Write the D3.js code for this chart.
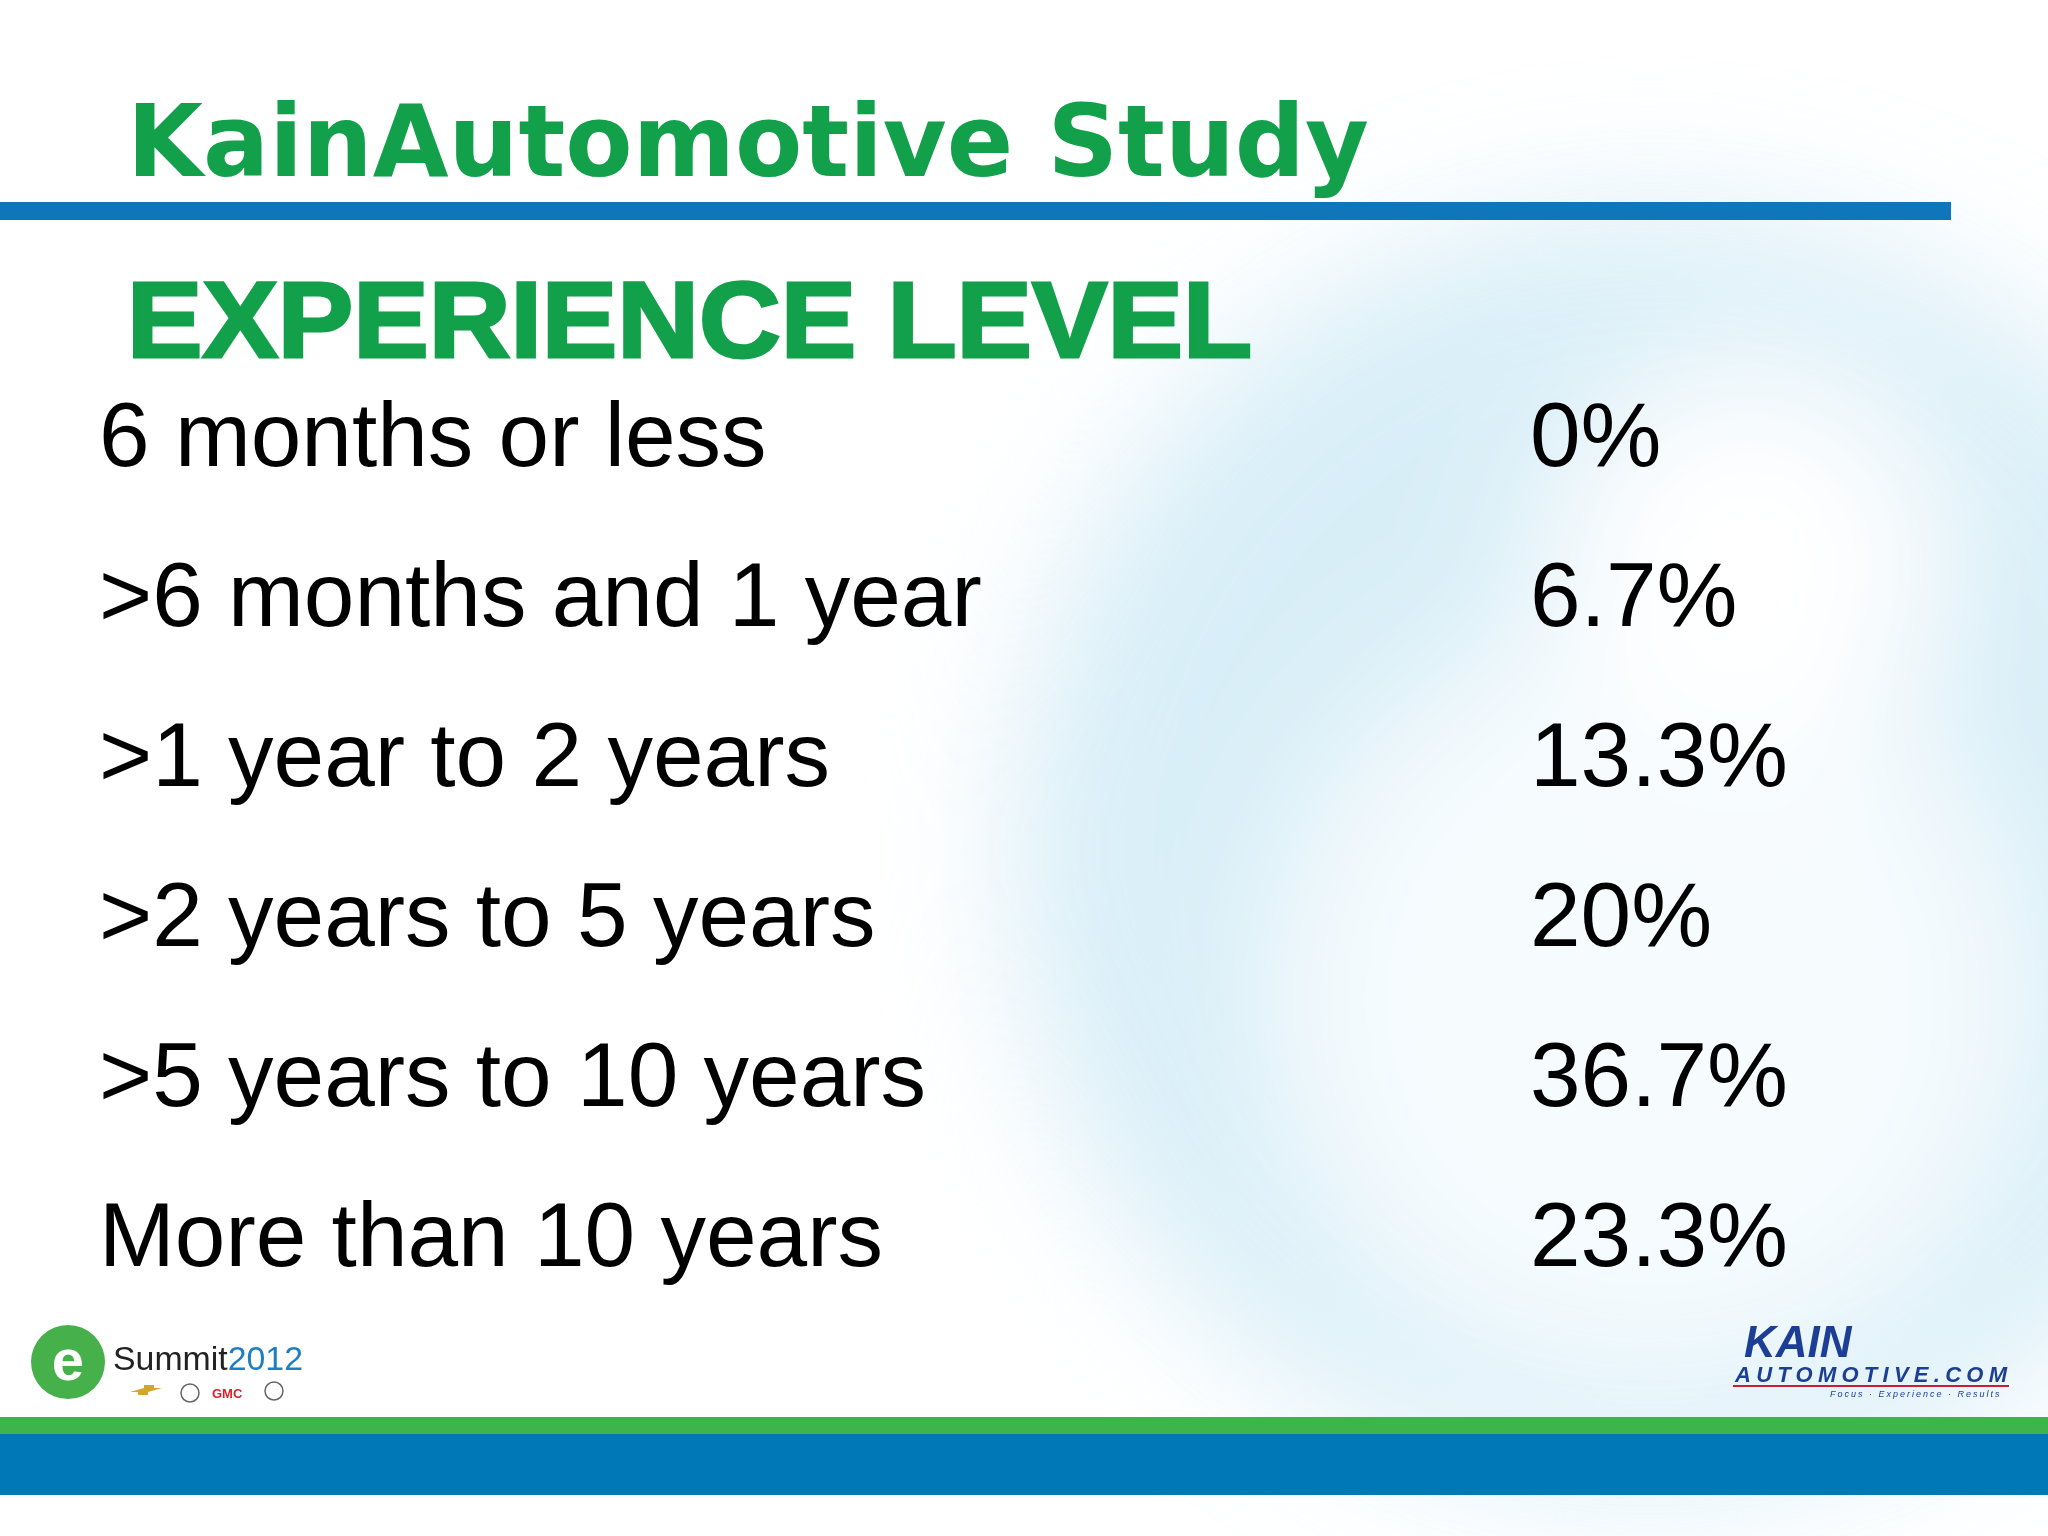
<!DOCTYPE html>
<html><head><meta charset="utf-8">
<script src="https://cdn.jsdelivr.net/npm/d3@7"></script>
<style>body{margin:0;background:#fff}svg{display:block}</style>
</head><body>
<script>
const categories = ["6 months or less", ">6 months and 1 year", ">1 year to 2 years", ">2 years to 5 years", ">5 years to 10 years", "More than 10 years"];
const valueLabels = ["0%", "6.7%", "13.3%", "20%", "36.7%", "23.3%"];
const title = "KainAutomotive Study";
const subtitle = "EXPERIENCE LEVEL";

const W = 2048, H = 1536;
const svg = d3.select("body").append("svg").attr("width", W).attr("height", H);
const defs = svg.append("defs");
const f = defs.append("filter").attr("id","blur").attr("x","-50%").attr("y","-50%").attr("width","200%").attr("height","200%");
f.append("feGaussianBlur").attr("stdDeviation", 70);

svg.append("rect").attr("width",W).attr("height",H).attr("fill","#fff");
const bg = svg.append("g").attr("filter","url(#blur)").attr("opacity",0.8);
bg.append("circle").attr("cx",1650).attr("cy",850).attr("r",640).attr("fill","#cfeaf6");
bg.append("circle").attr("cx",1650).attr("cy",1000).attr("r",380).attr("fill","#f4fbfe");
bg.append("circle").attr("cx",1750).attr("cy",560).attr("r",200).attr("fill","#ffffff");
bg.append("rect").attr("x",0).attr("y",0).attr("width",1000).attr("height",H).attr("fill","#fff").attr("opacity",0.85);

const font = "Liberation Sans, Arial, sans-serif";
svg.append("text").attr("x",127).attr("y",176).attr("font-family","DejaVu Sans, sans-serif").attr("font-weight","bold")
  .attr("font-size",100).attr("fill","#12a14a").attr("textLength",1242).attr("lengthAdjust","spacingAndGlyphs").text(title);
svg.append("rect").attr("x",0).attr("y",202).attr("width",1951).attr("height",18).attr("fill","#0f77b9");
svg.append("text").attr("x",127).attr("y",357).attr("font-family",font).attr("font-weight","bold")
  .attr("font-size",108).attr("fill","#12a14a").attr("stroke","#12a14a").attr("stroke-width",3)
  .attr("textLength",1125).attr("lengthAdjust","spacingAndGlyphs").text(subtitle);

const y = d3.scaleBand().domain(categories).range([366, 1326]).padding(0);
const rows = svg.append("g").selectAll("g").data(categories).join("g")
  .attr("transform", d => `translate(0,${y(d) + y.bandwidth()/2 + 20})`);
rows.append("text").attr("x",99).attr("font-family",font).attr("font-size",91).attr("fill","#000").text(d=>d);
rows.append("text").attr("x",1530).attr("font-family",font).attr("font-size",91).attr("fill","#000").text((d,i)=>valueLabels[i]);

svg.append("rect").attr("x",0).attr("y",1417).attr("width",W).attr("height",17).attr("fill","#3db54a");
svg.append("rect").attr("x",0).attr("y",1434).attr("width",W).attr("height",61).attr("fill","#0077b6");

// eSummit logo
svg.append("circle").attr("cx",68).attr("cy",1362).attr("r",37).attr("fill","#46b04a");
svg.append("text").attr("x",68).attr("y",1380).attr("text-anchor","middle").attr("font-family",font).attr("font-weight","bold").attr("font-size",58).attr("fill","#fff").text("e");
const st = svg.append("text").attr("x",113).attr("y",1370).attr("font-family",font).attr("font-size",34).attr("textLength",190).attr("lengthAdjust","spacingAndGlyphs");
st.append("tspan").attr("fill","#222").text("Summit");
st.append("tspan").attr("fill","#1e7fc0").text("2012");
svg.append("text").attr("x",212).attr("y",1398).attr("font-family",font).attr("font-weight","bold").attr("font-size",13).attr("fill","#d2232a").text("GMC");
svg.append("path").attr("d","M130,1392 l14,-4 l0,-3 l10,0 l0,3 l8,0 l-14,4 l0,3 l-10,0 l0,-3z").attr("fill","#d4a52a");
svg.append("circle").attr("cx",190).attr("cy",1393).attr("r",9).attr("fill","none").attr("stroke","#666").attr("stroke-width",1.5);
svg.append("circle").attr("cx",274).attr("cy",1391).attr("r",9).attr("fill","none").attr("stroke","#666").attr("stroke-width",1.5);

// Kain logo
svg.append("text").attr("x",1744).attr("y",1357).attr("font-family",font).attr("font-weight","bold").attr("font-style","italic").attr("font-size",44).attr("fill","#1c3f95").text("KAIN");
svg.append("text").attr("x",1735).attr("y",1382).attr("font-family",font).attr("font-weight","bold").attr("font-style","italic").attr("font-size",22).attr("fill","#1c3f95").attr("textLength",272).attr("lengthAdjust","spacing").text("AUTOMOTIVE.COM");
svg.append("rect").attr("x",1733).attr("y",1385).attr("width",276).attr("height",2).attr("fill","#c8202f");
svg.append("text").attr("x",1830).attr("y",1397).attr("font-family",font).attr("font-style","italic").attr("font-size",9).attr("letter-spacing",2).attr("fill","#1c3f95").text("Focus · Experience · Results");
</script>
</body></html>
